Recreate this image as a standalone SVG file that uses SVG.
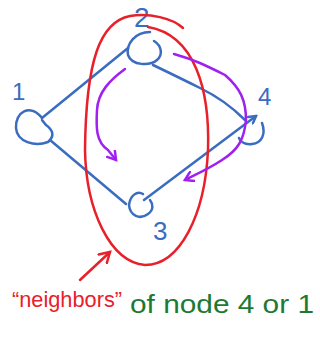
<svg xmlns="http://www.w3.org/2000/svg" width="320" height="339" viewBox="0 0 320 339">
<defs>
<style>
.node{fill:none;stroke:#3a6cc0;stroke-width:2.5;stroke-linecap:round}
.edge{fill:none;stroke:#3a6cc0;stroke-width:2.5;stroke-linecap:round;stroke-linejoin:round}
.lbl{font-family:"Liberation Sans",sans-serif;font-size:24px;fill:#3a6cc0}
.purple{fill:none;stroke:#a020f0;stroke-width:2.5;stroke-linecap:round;stroke-linejoin:round}
.red{fill:none;stroke:#e8202a;stroke-width:2.5;stroke-linecap:round;stroke-linejoin:round}
</style>
<marker id="ah" markerWidth="10" markerHeight="10" refX="8" refY="5" orient="auto" markerUnits="userSpaceOnUse">
<path d="M1,1 L8,5 L1,9" fill="none" stroke="#3a6cc0" stroke-width="2.5" stroke-linecap="round"/>
</marker>
<marker id="ahp" markerWidth="12" markerHeight="12" refX="9" refY="6" orient="auto" markerUnits="userSpaceOnUse">
<path d="M1,1 L9,6 L1,11" fill="none" stroke="#a020f0" stroke-width="2.5" stroke-linecap="round"/>
</marker>
<marker id="ahr" markerWidth="14" markerHeight="14" refX="11" refY="7" orient="auto" markerUnits="userSpaceOnUse">
<path d="M1,1 L11,7 L1,13" fill="none" stroke="#e8202a" stroke-width="2.5" stroke-linecap="round"/>
</marker>
</defs>
<rect width="320" height="339" fill="#fff"/>
<g id="connectors">
<path class="edge" d="M42,118 L128,48"/>
<path class="edge" d="M153,65 Q180,78 200,88 Q225,100 245,120"/>
<path class="edge" d="M50,140 L126,204"/>
<path class="edge" d="M144,200 L256,116" marker-end="url(#ah)"/>
</g>
<g id="node1">
<path class="node" d="M42,118 C30,103 15,112 16,128 C17,142 35,147 48,142 C55,136 53,130 46,125 L42,120"/>
<text class="lbl" x="12" y="100">1</text>
</g>
<g id="node2">
<path class="node" d="M150,32 C135,32 126,44 128,55 C132,66 150,66 157,60 C163,55 162,46 154,41"/>
<text class="lbl" x="134" y="27" style="font-size:28px">2</text>
</g>
<g id="node3">
<path class="node" d="M143,194 C137,190 130,196 129,205 C130,216 140,220 148,214 C154,210 153,204 150,200"/>
<text class="lbl" x="153" y="240" style="font-size:26px">3</text>
</g>
<g id="node4">
<path class="node" d="M262,123 C266,134 262,143 252,144 C244,145 240,141 239,138"/>
<text class="lbl" x="258" y="105">4</text>
</g>
<g id="highlight">
<path class="red" d="M183,28 C172,18 150,13 130,16 C100,22 86,60 85,150 C86,210 110,262 145,265 C180,265 205,215 208,150 C210,90 195,35 148,27"/>
<path class="red" d="M80,280 L110,252" marker-end="url(#ahr)"/>
</g>
<g id="purple-arrows">
<path class="purple" d="M125,69 C110,80 98,92 97,110 C96,128 96,142 108,150 L116,160" marker-end="url(#ahp)"/>
<path class="purple" d="M174,54 C195,60 205,65 225,75 C240,88 246,100 246,120 C244,140 238,150 222,160 C210,168 195,175 185,180" marker-end="url(#ahp)"/>
</g>
<g id="caption">
<text x="12" y="307" font-family="Liberation Sans, sans-serif" font-size="22" fill="#e8202a" textLength="110" lengthAdjust="spacingAndGlyphs">“neighbors”</text>
<text x="130" y="313" font-family="Liberation Sans, sans-serif" font-size="26" fill="#1e7a32" textLength="184" lengthAdjust="spacingAndGlyphs">of node 4 or 1</text>
</g>
</svg>
